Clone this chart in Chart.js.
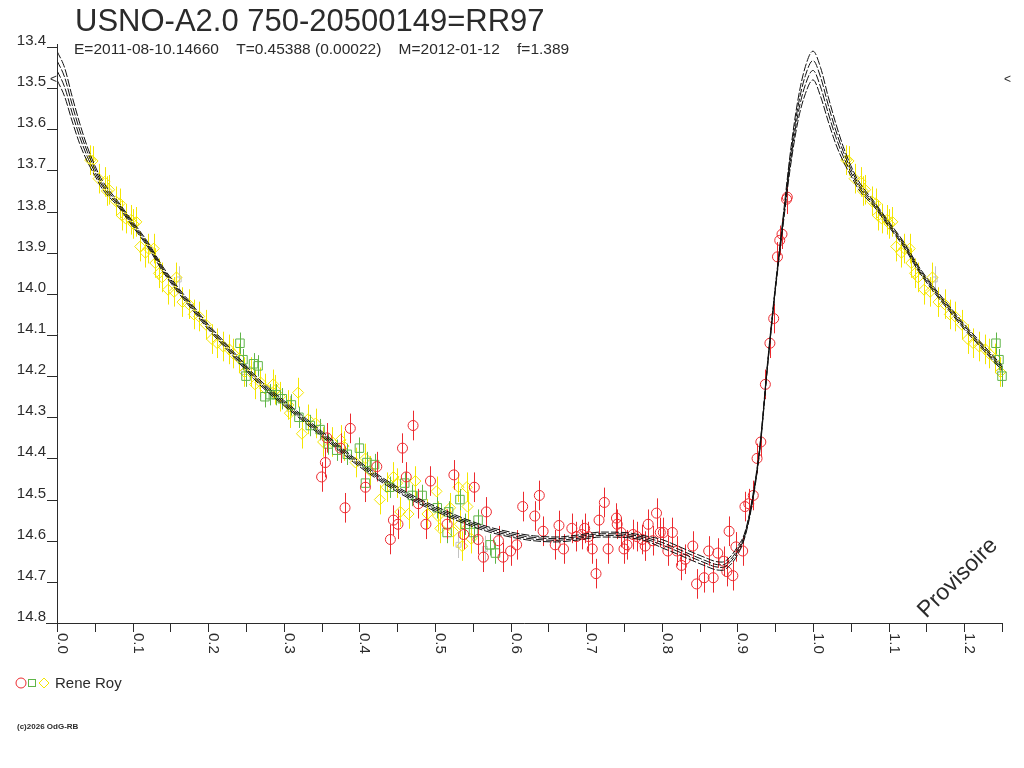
<!DOCTYPE html>
<html>
<head>
<meta charset="utf-8">
<title>USNO-A2.0 750-20500149=RR97</title>
<script src="https://cdn.jsdelivr.net/npm/chart.js@4"></script>
<style>
  html, body { margin: 0; padding: 0; background: #fff; }
  canvas { display: block; }
</style>
</head>
<body>
<canvas id="chart" width="1024" height="768"></canvas>
<script>
// fitted light curve, four traces (phase 0..1)
const fitPhase = [0, 0.01, 0.02, 0.03, 0.04, 0.05, 0.06, 0.08, 0.10, 0.12, 0.14, 0.16, 0.18, 0.20, 0.22, 0.24, 0.26, 0.28, 0.30, 0.33, 0.36, 0.39, 0.42, 0.45, 0.48, 0.51, 0.54, 0.57, 0.60, 0.63, 0.66, 0.69, 0.72, 0.75, 0.78, 0.80, 0.82, 0.84, 0.86, 0.87, 0.88, 0.89, 0.90, 0.91, 0.92, 0.93, 0.94, 0.95, 0.96, 0.97, 0.98, 0.99, 1.00];
const fitA = [13.410, 13.450, 13.520, 13.585, 13.642, 13.688, 13.725, 13.774, 13.824, 13.874, 13.934, 13.984, 14.029, 14.074, 14.114, 14.154, 14.194, 14.229, 14.259, 14.304, 14.349, 14.394, 14.434, 14.469, 14.499, 14.524, 14.547, 14.566, 14.579, 14.588, 14.591, 14.586, 14.579, 14.580, 14.589, 14.597, 14.612, 14.628, 14.643, 14.650, 14.652, 14.640, 14.615, 14.579, 14.494, 14.364, 14.164, 13.984, 13.820, 13.657, 13.529, 13.447, 13.410];
const fitB = [13.433, 13.473, 13.540, 13.602, 13.654, 13.696, 13.732, 13.778, 13.828, 13.878, 13.938, 13.988, 14.033, 14.078, 14.118, 14.158, 14.198, 14.233, 14.263, 14.308, 14.353, 14.398, 14.438, 14.473, 14.503, 14.528, 14.551, 14.570, 14.583, 14.592, 14.595, 14.590, 14.583, 14.584, 14.593, 14.604, 14.619, 14.635, 14.650, 14.657, 14.659, 14.647, 14.622, 14.583, 14.498, 14.368, 14.168, 13.988, 13.827, 13.669, 13.546, 13.469, 13.433];
const fitC = [13.457, 13.497, 13.560, 13.618, 13.666, 13.704, 13.738, 13.782, 13.832, 13.882, 13.942, 13.992, 14.037, 14.082, 14.122, 14.162, 14.202, 14.237, 14.267, 14.312, 14.357, 14.402, 14.442, 14.477, 14.507, 14.532, 14.555, 14.574, 14.587, 14.596, 14.599, 14.594, 14.587, 14.588, 14.597, 14.610, 14.625, 14.641, 14.656, 14.663, 14.665, 14.653, 14.628, 14.587, 14.502, 14.372, 14.172, 13.992, 13.833, 13.681, 13.564, 13.491, 13.457];
const fitD = [13.480, 13.520, 13.580, 13.635, 13.678, 13.712, 13.745, 13.786, 13.836, 13.886, 13.946, 13.996, 14.041, 14.086, 14.126, 14.166, 14.206, 14.241, 14.271, 14.316, 14.361, 14.406, 14.446, 14.481, 14.511, 14.536, 14.559, 14.578, 14.591, 14.600, 14.603, 14.598, 14.591, 14.592, 14.601, 14.617, 14.632, 14.648, 14.663, 14.670, 14.672, 14.660, 14.635, 14.591, 14.506, 14.376, 14.176, 13.996, 13.840, 13.693, 13.581, 13.513, 13.480];

// observations: red circles
const redPhase = [0.350, 0.355, 0.357, 0.375, 0.381, 0.388, 0.408, 0.423, 0.441, 0.445, 0.451, 0.457, 0.462, 0.471, 0.478, 0.488, 0.494, 0.516, 0.525, 0.538, 0.552, 0.557, 0.564, 0.568, 0.584, 0.590, 0.600, 0.608, 0.616, 0.632, 0.638, 0.643, 0.659, 0.664, 0.670, 0.681, 0.687, 0.694, 0.698, 0.703, 0.708, 0.713, 0.717, 0.724, 0.729, 0.740, 0.741, 0.746, 0.750, 0.754, 0.762, 0.767, 0.774, 0.778, 0.782, 0.788, 0.793, 0.798, 0.802, 0.808, 0.814, 0.820, 0.826, 0.831, 0.841, 0.846, 0.856, 0.862, 0.868, 0.874, 0.882, 0.886, 0.889, 0.894, 0.898, 0.907, 0.910, 0.915, 0.921, 0.926, 0.931, 0.937, 0.943, 0.948, 0.953, 0.956, 0.959, 0.965, 0.966];
const redMag = [14.445, 14.41, 14.35, 14.375, 14.52, 14.327, 14.47, 14.42, 14.597, 14.55, 14.56, 14.375, 14.445, 14.32, 14.51, 14.56, 14.455, 14.56, 14.44, 14.585, 14.47, 14.597, 14.64, 14.53, 14.60, 14.64, 14.625, 14.61, 14.517, 14.54, 14.49, 14.577, 14.61, 14.563, 14.62, 14.57, 14.59, 14.585, 14.57, 14.59, 14.62, 14.68, 14.55, 14.507, 14.62, 14.545, 14.56, 14.58, 14.62, 14.61, 14.585, 14.59, 14.597, 14.613, 14.56, 14.60, 14.533, 14.58, 14.58, 14.625, 14.58, 14.625, 14.66, 14.645, 14.613, 14.705, 14.69, 14.625, 14.69, 14.63, 14.65, 14.675, 14.577, 14.685, 14.615, 14.625, 14.517, 14.51, 14.49, 14.40, 14.36, 14.22, 14.12, 14.06, 13.91, 13.87, 13.855, 13.77, 13.765];
const redErr = 0.036;

// green squares
const greenPhase = [0.242, 0.246, 0.250, 0.260, 0.266, 0.275, 0.282, 0.290, 0.298, 0.310, 0.320, 0.335, 0.348, 0.359, 0.370, 0.384, 0.400, 0.408, 0.410, 0.420, 0.440, 0.460, 0.470, 0.483, 0.503, 0.516, 0.518, 0.533, 0.540, 0.551, 0.557, 0.573, 0.580];
const greenMag = [14.12, 14.16, 14.20, 14.17, 14.175, 14.25, 14.245, 14.245, 14.255, 14.27, 14.30, 14.32, 14.33, 14.365, 14.38, 14.39, 14.375, 14.46, 14.41, 14.415, 14.47, 14.46, 14.49, 14.49, 14.52, 14.58, 14.53, 14.50, 14.56, 14.58, 14.55, 14.61, 14.63];
const greenErr = 0.026;

// yellow diamonds
const yellowPhase = [0.044, 0.047, 0.055, 0.063, 0.066, 0.069, 0.078, 0.083, 0.086, 0.091, 0.098, 0.101, 0.105, 0.110, 0.117, 0.121, 0.128, 0.130, 0.135, 0.139, 0.147, 0.155, 0.158, 0.166, 0.174, 0.181, 0.188, 0.197, 0.205, 0.212, 0.220, 0.228, 0.233, 0.241, 0.248, 0.256, 0.262, 0.269, 0.275, 0.286, 0.289, 0.295, 0.306, 0.308, 0.319, 0.324, 0.332, 0.342, 0.352, 0.364, 0.375, 0.379, 0.395, 0.408, 0.414, 0.427, 0.436, 0.445, 0.450, 0.454, 0.465, 0.474, 0.490, 0.502, 0.504, 0.507, 0.520, 0.524, 0.531, 0.533, 0.536, 0.542, 0.543, 0.548];
const yellowMag = [13.675, 13.677, 13.72, 13.728, 13.75, 13.747, 13.775, 13.78, 13.81, 13.817, 13.82, 13.83, 13.825, 13.885, 13.90, 13.89, 13.89, 13.925, 13.95, 13.96, 13.99, 13.995, 13.96, 14.02, 14.025, 14.05, 14.055, 14.075, 14.11, 14.12, 14.128, 14.135, 14.145, 14.157, 14.19, 14.19, 14.22, 14.215, 14.23, 14.22, 14.233, 14.25, 14.27, 14.29, 14.24, 14.34, 14.305, 14.315, 14.36, 14.36, 14.355, 14.37, 14.41, 14.40, 14.43, 14.50, 14.47, 14.445, 14.46, 14.53, 14.535, 14.455, 14.535, 14.48, 14.54, 14.57, 14.52, 14.578, 14.47, 14.56, 14.613, 14.47, 14.517, 14.595];
const yellowErr = 0.036;

// light grey measures
const greyPhase = [0.161, 0.247, 0.308, 0.531, 0.566];
const greyMag = [13.965, 14.19, 14.28, 14.61, 14.62];
const greyErr = 0.032;

// axes
const xTickValues = [0, 0.1, 0.2, 0.3, 0.4, 0.5, 0.6, 0.7, 0.8, 0.9, 1.0, 1.1, 1.2];
const xTickLabels = ['0.0', '0.1', '0.2', '0.3', '0.4', '0.5', '0.6', '0.7', '0.8', '0.9', '1.0', '1.1', '1.2'];
const xTickMarks = [0, 0.05, 0.1, 0.15, 0.2, 0.25, 0.3, 0.35, 0.4, 0.45, 0.5, 0.55, 0.6, 0.65, 0.7, 0.75, 0.8, 0.85, 0.9, 0.95, 1.0, 1.05, 1.1, 1.15, 1.2, 1.25];
const yTickValues = [13.4, 13.5, 13.6, 13.7, 13.8, 13.9, 14.0, 14.1, 14.2, 14.3, 14.4, 14.5, 14.6, 14.7, 14.8];
const yTickLabels = ['13.4', '13.5', '13.6', '13.7', '13.8', '13.9', '14.0', '14.1', '14.2', '14.3', '14.4', '14.5', '14.6', '14.7', '14.8'];
const brightLimit = 13.48;
const phaseMax = 1.25;

const titleText = 'USNO-A2.0 750-20500149=RR97';
const infoText = ['E=2011-08-10.14660', 'T=0.45388 (0.00022)', 'M=2012-01-12', 'f=1.389'];
const observer = 'Rene Roy';

const FONT = '"Liberation Sans", Arial, sans-serif';
const RED = '#ec2a2f', GREEN = '#5fb548', YELLOW = '#f4e600', GREY = '#c2c2c2', INK = '#2b2b2b';

// phase diagram: points with phase < 0.25 are shown again one cycle later
function folded(ph, mg) {
    const pts = ph.map((p, i) => ({ x: p, y: mg[i] }));
    ph.forEach((p, i) => {
        if (p + 1 <= phaseMax) pts.push({ x: p + 1, y: mg[i] });
    });
    return pts;
}
function foldedCurve(mg) {
    const pts = fitPhase.map((p, i) => ({ x: p, y: mg[i] }));
    fitPhase.forEach((p, i) => {
        if (p > 0 && p + 1 <= phaseMax + 0.02) pts.push({ x: p + 1, y: mg[i] });
    });
    return pts;
}

function curveSet(mg) {
    return {
        data: foldedCurve(mg), showLine: true, pointRadius: 0, borderColor: '#111',
        borderWidth: 1, borderDash: [8, 2], cubicInterpolationMode: 'monotone', order: 0, clip: 0
    };
}
function pointSet(ph, mg, color, style, radius, err, order) {
    return {
        data: folded(ph, mg), pointStyle: style, pointRadius: radius, borderColor: color,
        backgroundColor: 'rgba(0,0,0,0)', pointBorderWidth: 1, showLine: false, errBar: err, order: order, clip: false
    };
}

const errorBars = {
    id: 'errorBars',
    beforeDatasetDraw(chart, args) {
        const ds = chart.data.datasets[args.index];
        if (!ds.errBar) return;
        const ctx = chart.ctx, y = chart.scales.y;
        ctx.save();
        ctx.strokeStyle = ds.borderColor;
        ctx.lineWidth = 1;
        ctx.beginPath();
        args.meta.data.forEach((el, i) => {
            const v = ds.data[i].y;
            const px = Math.round(el.x) + 0.5;
            ctx.moveTo(px, y.getPixelForValue(v - ds.errBar));
            ctx.lineTo(px, y.getPixelForValue(v + ds.errBar));
        });
        ctx.stroke();
        ctx.restore();
    }
};

const frame = {
    id: 'frame',
    afterDraw(chart) {
        const { ctx, chartArea: a, scales: { x, y } } = chart;
        ctx.save();
        ctx.strokeStyle = INK;
        ctx.fillStyle = INK;
        ctx.lineWidth = 1;
        ctx.beginPath();
        ctx.moveTo(a.left + 0.5, a.top - 3);
        ctx.lineTo(a.left + 0.5, a.bottom + 0.5);
        ctx.moveTo(a.left - 11, a.bottom + 0.5);
        ctx.lineTo(a.right + 0.5, a.bottom + 0.5);
        yTickValues.forEach(v => {
            const py = Math.round(y.getPixelForValue(v)) + 0.5;
            ctx.moveTo(a.left - 10, py);
            ctx.lineTo(a.left, py);
        });
        xTickMarks.forEach(v => {
            const px = Math.round(x.getPixelForValue(v)) + 0.5;
            ctx.moveTo(px, a.bottom);
            ctx.lineTo(px, a.bottom + 9);
        });
        ctx.stroke();

        ctx.font = '15px ' + FONT;
        ctx.textAlign = 'right';
        ctx.textBaseline = 'alphabetic';
        yTickValues.forEach((v, i) => {
            ctx.fillText(yTickLabels[i], a.left - 11, Math.round(y.getPixelForValue(v)) - 2);
        });
        ctx.textAlign = 'left';
        xTickValues.forEach((v, i) => {
            ctx.save();
            ctx.translate(Math.round(x.getPixelForValue(v)) + 1, a.bottom + 10);
            ctx.rotate(Math.PI / 2);
            ctx.fillText(xTickLabels[i], 0, 0);
            ctx.restore();
        });

        // brightness limit marks
        ctx.font = '12px ' + FONT;
        ctx.textBaseline = 'middle';
        ctx.fillText('<', a.left - 7, y.getPixelForValue(brightLimit));
        ctx.fillText('<', a.right + 2, y.getPixelForValue(brightLimit));

        // title block
        ctx.textBaseline = 'alphabetic';
        ctx.font = '31px ' + FONT;
        ctx.fillText(titleText, 75, 31);
        ctx.font = '15.5px ' + FONT;
        let tx = 74;
        infoText.forEach(t => {
            ctx.fillText(t, tx, 54);
            tx += ctx.measureText(t + '    ').width;
        });

        // watermark
        ctx.save();
        ctx.translate(958, 578);
        ctx.rotate(-Math.PI / 4);
        ctx.font = '23px ' + FONT;
        ctx.textAlign = 'center';
        ctx.textBaseline = 'middle';
        ctx.fillText('Provisoire', 0, 0);
        ctx.restore();

        // observer legend
        ctx.lineWidth = 1;
        ctx.strokeStyle = RED;
        ctx.beginPath();
        ctx.arc(21, 683, 5, 0, Math.PI * 2);
        ctx.stroke();
        ctx.strokeStyle = GREEN;
        ctx.strokeRect(28.5, 679.5, 7, 7);
        ctx.strokeStyle = YELLOW;
        ctx.beginPath();
        ctx.moveTo(39, 683); ctx.lineTo(44, 678); ctx.lineTo(49, 683); ctx.lineTo(44, 688); ctx.closePath();
        ctx.stroke();
        ctx.fillStyle = INK;
        ctx.font = '15px ' + FONT;
        ctx.fillText(observer, 55, 688);

        ctx.font = 'bold 8px ' + FONT;
        ctx.fillText('(c)2026 OdG-RB', 17, 729);
        ctx.restore();
    }
};

new Chart(document.getElementById('chart').getContext('2d'), {
    type: 'scatter',
    data: {
        datasets: [
            curveSet(fitA), curveSet(fitB), curveSet(fitC), curveSet(fitD),
            pointSet(redPhase, redMag, RED, 'circle', 5, redErr, 1),
            pointSet(greenPhase, greenMag, GREEN, 'rect', 6, greenErr, 2),
            pointSet(yellowPhase, yellowMag, YELLOW, 'rectRot', 5.5, yellowErr, 3),
            pointSet(greyPhase, greyMag, GREY, 'rect', 3.5, greyErr, 4)
        ]
    },
    options: {
        responsive: false,
        animation: false,
        devicePixelRatio: 1,
        layout: { padding: { left: 57, top: 47, right: 22, bottom: 145 } },
        scales: {
            x: { type: 'linear', min: 0, max: phaseMax, display: false },
            y: { type: 'linear', min: 13.4, max: 14.8, reverse: true, display: false }
        },
        plugins: { legend: { display: false }, tooltip: { enabled: false } }
    },
    plugins: [errorBars, frame]
});
</script>
</body>
</html>
